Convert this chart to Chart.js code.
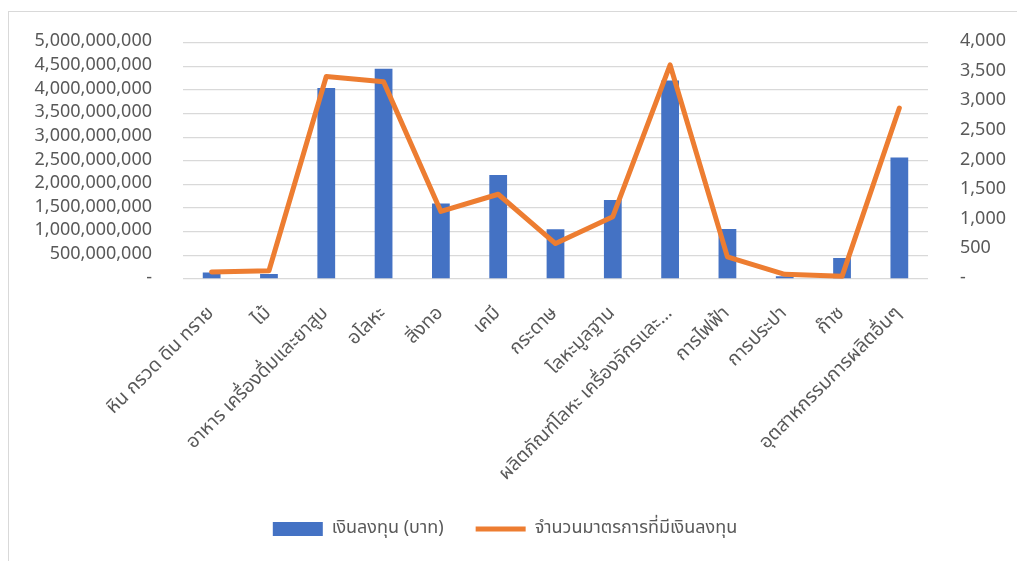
<!DOCTYPE html>
<html>
<head>
<meta charset="utf-8">
<script src="https://cdn.jsdelivr.net/npm/chart.js@4"></script>
<style>
    body { margin: 0; background: #ffffff; }
    #wrap { position: relative; width: 1017px; height: 561px; overflow: hidden; }
    #frame { position: absolute; left: 8px; top: 11px; width: 1100px; height: 700px; border: 1px solid #d9d9d9; }
    #investChart { position: absolute; left: 0; top: 0; }
</style>
</head>
<body>
<div id="wrap">
    <div id="frame"></div>
    <canvas id="investChart" width="1017" height="561"></canvas>
</div>
<script>
// Sector categories
const sectors = [
    'หิน กรวด ดิน ทราย',
    'ไม้',
    'อาหาร เครื่องดื่มและยาสูบ',
    'อโลหะ',
    'สิ่งทอ',
    'เคมี',
    'กระดาษ',
    'โลหะมูลฐาน',
    'ผลิตภัณฑ์โลหะ เครื่องจักรและ…',
    'การไฟฟ้า',
    'การประปา',
    'ก๊าซ',
    'อุตสาหกรรมการผลิตอื่นๆ'
];

// Investment (baht) - left axis
const investment = [
    140000000, 105000000, 4045000000, 4450000000, 1600000000, 2200000000, 1055000000,
    1670000000, 4200000000, 1060000000, 60000000, 445000000, 2570000000
];

// Number of measures with investment - right axis
const measureCount = [120, 140, 3430, 3340, 1145, 1435, 600, 1055, 3625, 375, 80, 45, 2895];

const FONT = "'Noto Sans Thai', 'Leelawadee UI', Tahoma, 'Noto Sans', sans-serif";
const TEXT_COLOR = '#595959';
const GRID_COLOR = '#d9d9d9';

document.addEventListener('DOMContentLoaded', function() {
    initializeInvestChart();
});

// Format tick numbers like Excel accounting format
function formatTick(value) {
    if (value === 0) return '-';
    return value.toLocaleString('en-US');
}

function initializeInvestChart() {
    const ctx = document.getElementById('investChart');

    new Chart(ctx, {
        data: {
            labels: sectors,
            datasets: [{
                type: 'bar',
                label: 'เงินลงทุน (บาท)',
                data: investment,
                backgroundColor: '#4472c4',
                borderWidth: 0,
                pointStyle: 'rect',
                yAxisID: 'y',
                barPercentage: 0.31,
                categoryPercentage: 1,
                order: 2
            }, {
                type: 'line',
                label: 'จำนวนมาตรการที่มีเงินลงทุน',
                data: measureCount,
                borderColor: '#ed7d31',
                backgroundColor: '#ed7d31',
                borderWidth: 5,
                pointBorderWidth: 5,
                borderJoinStyle: 'round',
                borderCapStyle: 'round',
                pointRadius: 0,
                pointHoverRadius: 0,
                pointStyle: 'line',
                tension: 0,
                yAxisID: 'y1',
                order: 1
            }]
        },
        options: {
            responsive: false,
            animation: false,
            layout: {
                padding: { top: 40, left: 0, right: 7, bottom: 13 }
            },
            plugins: {
                tooltip: { enabled: false },
                legend: {
                    position: 'bottom',
                    labels: {
                        usePointStyle: true,
                        pointStyleWidth: 50,
                        boxHeight: 14,
                        padding: 32,
                        color: TEXT_COLOR,
                        font: { family: FONT, size: 18 },
                        sort: function(a, b) { return a.datasetIndex - b.datasetIndex; }
                    }
                }
            },
            scales: {
                x: {
                    grid: { display: false },
                    border: { display: false },
                    ticks: {
                        color: TEXT_COLOR,
                        font: { family: FONT, size: 19 },
                        maxRotation: 45,
                        minRotation: 45,
                        autoSkip: false,
                        padding: 16
                    },
                    afterFit: function(scale) {
                        scale.height = 561 - 279 - 13 - scale.chart.legend.height;
                    }
                },
                y: {
                    position: 'left',
                    min: 0,
                    max: 5000000000,
                    grid: { color: GRID_COLOR, lineWidth: 1.3, drawTicks: false },
                    border: { display: false },
                    ticks: {
                        stepSize: 500000000,
                        autoSkip: false,
                        padding: 31,
                        color: TEXT_COLOR,
                        font: { family: FONT, size: 18 },
                        callback: formatTick
                    },
                    afterFit: function(scale) {
                        scale.width = 183;
                    }
                },
                y1: {
                    position: 'right',
                    min: 0,
                    max: 4000,
                    grid: { display: false, drawTicks: false },
                    border: { display: false },
                    ticks: {
                        stepSize: 500,
                        autoSkip: false,
                        padding: 32,
                        color: TEXT_COLOR,
                        font: { family: FONT, size: 18 },
                        callback: formatTick
                    },
                    afterFit: function(scale) {
                        scale.width = 1017 - 7 - 928;
                    }
                }
            }
        }
    });
}
</script>
</body>
</html>
